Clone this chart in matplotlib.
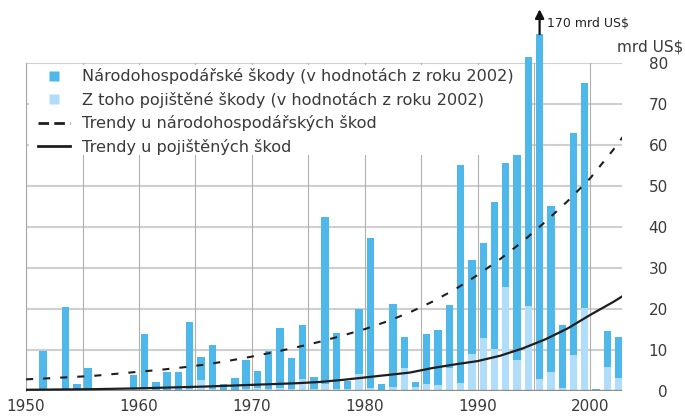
import numpy as np
import matplotlib
matplotlib.use("Agg")
import matplotlib.pyplot as plt
from matplotlib.lines import Line2D
from matplotlib.patches import Rectangle

plt.rcParams['font.family'] = ['DejaVu Sans']

# ---------------- data ----------------
years = list(range(1950, 2003))
economic = [0.3, 9.8, 0.0, 20.4, 1.7, 5.5, 0.4, 0.0, 0.0, 3.8,
            13.8, 2.2, 4.7, 4.7, 16.9, 8.3, 11.2, 1.7, 3.1, 7.6,
            5.0, 9.8, 15.3, 8.0, 16.1, 3.3, 42.5, 14.1, 2.5, 19.9,
            37.3, 1.7, 21.2, 13.1, 2.1, 13.8, 14.9, 21.0, 55.2, 32.0,
            36.1, 46.1, 55.7, 57.6, 81.5, 170.0, 45.2, 16.1, 62.9, 75.1,
            0.5, 14.6, 13.3]
insured = [0.0, 0.3, 0.0, 0.3, 0.0, 0.3, 0.4, 0.0, 0.0, 0.5,
           0.5, 0.0, 0.0, 0.0, 0.5, 2.7, 0.5, 0.0, 0.0, 0.5,
           0.8, 0.5, 0.8, 0.5, 3.0, 0.5, 1.8, 0.5, 0.5, 4.1,
           0.8, 0.3, 1.0, 5.5, 1.0, 1.7, 1.5, 5.6, 2.0, 9.0,
           12.9, 10.3, 25.3, 7.5, 20.7, 3.0, 4.6, 0.8, 8.8, 20.2,
           0.3, 5.9, 3.1]

trend_years = [1950, 1952, 1954, 1956, 1958, 1960, 1962, 1964, 1966, 1968,
               1970, 1972, 1974, 1976, 1978, 1980, 1982, 1984, 1986, 1988,
               1990, 1992, 1994, 1996, 1998, 2000, 2002, 2003]
trend_economic = [2.85, 3.1, 3.4, 3.7, 4.2, 4.7, 5.2, 5.8, 6.5, 7.4,
                  8.4, 9.5, 10.7, 12.0, 13.5, 15.1, 17.0, 19.2, 21.8, 24.8,
                  28.3, 32.2, 36.5, 41.3, 46.4, 52.0, 58.8, 62.5]
trend_insured = [0.3, 0.35, 0.4, 0.45, 0.55, 0.65, 0.8, 0.95, 1.1, 1.3,
                 1.5, 1.7, 1.9, 2.2, 2.7, 3.3, 3.9, 4.5, 5.6, 6.5,
                 7.3, 8.6, 10.4, 12.6, 15.3, 18.6, 21.7, 23.4]

x_tick_years = [1950, 1960, 1970, 1980, 1990, 2000]
y_ticks = [0, 10, 20, 30, 40, 50, 60, 70, 80]

labels = ["Národohospodářské škody (v hodnotách z roku 2002)",
          "Z toho pojištěné škody (v hodnotách z roku 2002)",
          "Trendy u národohospodářských škod",
          "Trendy u pojištěných škod"]
unit_label = "mrd US$"
outlier_label = "170 mrd US$"
display_cap = 87.1   # tallest bar is drawn truncated

# ---------------- style ----------------
DARK = '#4fb8ea'
LIGHT = '#b0defa'
TXT = '#3a3a3a'

W, H = 685, 416
fig = plt.figure(figsize=(W / 100, H / 100), dpi=100)
x0, x1 = 26.07, 622.0
y0, y1 = 391.0, 63.3
ax = fig.add_axes([x0 / W, 1 - y0 / H, (x1 - x0) / W, (y0 - y1) / H])
ax.set_xlim(1950, 2002.8)
ax.set_ylim(0, 80)

yrs = np.array(years)
econ = np.array(economic)
drawn = np.minimum(econ, display_cap)
ax.bar(yrs + 0.5, drawn, width=0.65, color=DARK, zorder=2, clip_on=False, linewidth=0)
ax.bar(yrs + 0.5, insured, width=0.65, color=LIGHT, zorder=2.1, linewidth=0)

# gridlines
for v in y_ticks[1:]:
    ax.axhline(v, color='#cfcfcf', lw=1.5, zorder=0.5)
ax.set_xticks(x_tick_years)
ax.set_xticks([1955, 1965, 1975, 1985, 1995], minor=True)
ax.grid(axis='x', which='both', color='#b0b0b0', lw=0.8, zorder=0.5)
ax.set_axisbelow(True)
ax.axhline(0, color='#8c8c8c', lw=2.4, zorder=3)

# white legend background
ax.add_patch(Rectangle((1950.25, 57.6), 1994.2 - 1950.25, 79.5 - 57.6,
                       facecolor='white', edgecolor='none', zorder=1))

# trends
ax.plot(trend_years, trend_economic, color='#1e1e1e', lw=1.5,
        linestyle=(0, (3.4, 4.8)), zorder=4)
ax.plot(trend_years, trend_insured, color='#1e1e1e', lw=1.6, zorder=4)

# spines / ticks
for s in ['top', 'right', 'bottom']:
    ax.spines[s].set_visible(False)
ax.spines['left'].set_color('#a8a8a8')
ax.spines['left'].set_linewidth(0.8)
ax.yaxis.tick_right()
ax.set_yticks(y_ticks)
ax.set_yticklabels([str(v) for v in y_ticks])
ax.tick_params(axis='y', length=0, pad=33, labelsize=11, labelcolor=TXT)
for lab in ax.get_yticklabels():
    lab.set_horizontalalignment('right')
ax.set_xticklabels([str(v) for v in x_tick_years])
ax.tick_params(axis='x', which='both', length=0, pad=6, labelsize=11, labelcolor=TXT)

# outlier arrow
xo = years[economic.index(max(economic))] + 0.5
ax.annotate('', xy=(xo, 93.2), xytext=(xo, display_cap),
            arrowprops=dict(arrowstyle='-|>', color='#111111', lw=1.6,
                            mutation_scale=13, shrinkA=0, shrinkB=0),
            annotation_clip=False, zorder=5)
ax.text(xo + 0.63, 89.6, outlier_label, fontsize=9, color='#222222',
        ha='left', va='center', clip_on=False)

fig.text(683.5 / W, 1 - 46.7 / H, unit_label, fontsize=11, color=TXT,
         ha='right', va='center')

# legend
handles = [Line2D([], [], marker='s', linestyle='none', markersize=7.5,
                  markerfacecolor=DARK, markeredgecolor='none'),
           Line2D([], [], marker='s', linestyle='none', markersize=7.5,
                  markerfacecolor=LIGHT, markeredgecolor='none'),
           Line2D([], [], color='#1e1e1e', lw=2, linestyle=(0, (3.8, 1.9))),
           Line2D([], [], color='#1e1e1e', lw=2)]
leg = fig.legend(handles, labels, loc='upper left',
                 bbox_to_anchor=(38 / W, 1 - 68.5 / H), frameon=False,
                 fontsize=11.6, handlelength=2.0, handletextpad=0.7,
                 labelspacing=0.46, borderpad=0, borderaxespad=0)
for t in leg.get_texts():
    t.set_color(TXT)

fig.savefig('out.png', dpi=100)
